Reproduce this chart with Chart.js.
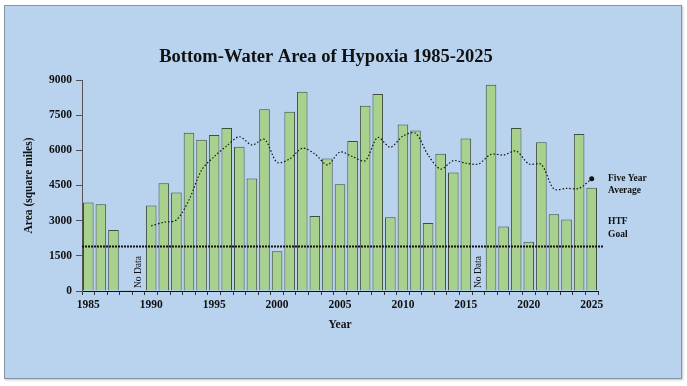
<!DOCTYPE html>
<html>
<head>
<meta charset="utf-8">
<script src="https://cdn.jsdelivr.net/npm/chart.js@4"></script>
<style>
  html, body { margin: 0; padding: 0; background: #fff; }
  #panel { position: absolute; left: 4px; top: 5px; width: 676px; height: 372px;
           background: #b9d3ee; border: 1px solid #8594a6; box-shadow: 1px 1px 2px rgba(0,0,0,0.25); }
  #wrap { position: absolute; left: 0; top: 0; width: 687px; height: 386px; }
</style>
</head>
<body>
<div id="panel"></div>
<div id="wrap"><canvas id="chart" width="687" height="386"></canvas></div>
<script>
// hypoxic area, square miles (null = no data)
const years = [1985, 1986, 1987, 1988, 1989, 1990, 1991, 1992, 1993, 1994,
               1995, 1996, 1997, 1998, 1999, 2000, 2001, 2002, 2003, 2004,
               2005, 2006, 2007, 2008, 2009, 2010, 2011, 2012, 2013, 2014,
               2015, 2016, 2017, 2018, 2019, 2020, 2021, 2022, 2023, 2024, 2025];
const area = [3775, 3700, 2600, 40, null,
              3650, 4600, 4200, 6750, 6450, 6650, 6950, 6150, 4800, 7750,
              1700, 7650, 8500, 3200, 5650, 4550, 6400, 7900, 8400, 3150,
              7100, 6850, 2900, 5850, 5050, 6500, null, 8800, 2750, 6950,
              2100, 6350, 3275, 3050, 6700, 4400];
const fiveYearAvg = [null, null, null, null, null,
                     2780, 2930, 3030, 3880, 5160, 5730, 6190, 6580, 6230, 6470,
                     5490, 5630, 6090, 5850, 5380, 5930, 5730, 5560, 6550, 6130,
                     6610, 6730, 5800, 5200, 5560, 5450, 5420, 5830, 5800, 5970,
                     5420, 5400, 4350, 4380, 4380, 4790];
const htfGoal = 1900;
const yTicks = [0, 1500, 3000, 4500, 6000, 7500, 9000];
const chartTitle = 'Bottom-Water Area of Hypoxia 1985-2025';

const serif = '"Liberation Serif", "Times New Roman", serif';

// title, "No Data" markers, HTF goal line and the side labels
const notes = {
  id: 'notes',
  afterDatasetsDraw(chart) {
    const { ctx, chartArea: a, scales: { x, y } } = chart;
    ctx.save();
    ctx.fillStyle = '#111';
    ctx.font = 'bold 18.5px ' + serif;
    ctx.textAlign = 'center';
    ctx.textBaseline = 'middle';
    ctx.fillText(chartTitle, 326, 57);

    const gy = y.getPixelForValue(htfGoal);
    ctx.strokeStyle = '#111';
    ctx.lineWidth = 2;
    ctx.setLineDash([2, 1]);
    ctx.beginPath();
    ctx.moveTo(a.left, gy);
    ctx.lineTo(a.right + 5, gy);
    ctx.stroke();
    ctx.setLineDash([]);

    ctx.font = '9.5px ' + serif;
    ctx.textAlign = 'left';
    area.forEach((v, i) => {
      if (v !== null) return;
      ctx.save();
      ctx.translate(x.getPixelForValue(i), a.bottom - 3);
      ctx.rotate(-Math.PI / 2);
      ctx.fillText('No Data', 0, 0);
      ctx.restore();
    });

    ctx.font = 'bold 9.5px ' + serif;
    const tx = a.right + 10;
    const ay = y.getPixelForValue(fiveYearAvg[fiveYearAvg.length - 1]);
    ctx.fillText('Five Year', tx, ay);
    ctx.fillText('Average', tx, ay + 12);
    ctx.fillText('HTF', tx, gy - 25);
    ctx.fillText('Goal', tx, gy - 12);
    ctx.restore();
  }
};

new Chart(document.getElementById('chart'), {
  data: {
    labels: years,
    datasets: [
      {
        type: 'line',
        label: 'Five Year Average',
        data: fiveYearAvg,
        order: 0,
        borderColor: '#111',
        borderWidth: 1.2,
        borderDash: [1.5, 2],
        tension: 0.3,
        pointRadius: ctx => ctx.dataIndex === fiveYearAvg.length - 1 ? 2.5 : 0,
        pointBackgroundColor: '#111',
        pointBorderWidth: 0
      },
      {
        type: 'bar',
        label: 'Area',
        data: area,
        order: 1,
        backgroundColor: '#a9d18e',
        borderColor: '#3f4d3c',
        borderWidth: 1,
        barPercentage: 0.84,
        categoryPercentage: 1.0
      }
    ]
  },
  options: {
    responsive: false,
    animation: false,
    layout: { padding: { left: 0, right: 89, top: 80, bottom: 0 } },
    plugins: {
      legend: { display: false },
      tooltip: { enabled: false },
      title: { display: false }
    },
    scales: {
      x: {
        type: 'category',
        offset: true,
        afterFit: s => { s.height = 95; },
        grid: { offset: true, drawOnChartArea: false, tickLength: 4, tickColor: '#333' },
        border: { color: '#111', width: 1 },
        ticks: {
          autoSkip: false, maxRotation: 0, padding: 3, color: '#111',
          font: { family: serif, size: 11.5, weight: 'bold' },
          callback: (v, i) => years[i] % 5 === 0 ? String(years[i]) : ''
        },
        title: {
          display: true, text: 'Year', color: '#111',
          font: { family: serif, size: 11.5, weight: 'bold' },
          padding: { top: 0, bottom: 54 }
        }
      },
      y: {
        min: 0,
        max: 9000,
        afterFit: s => { s.width = 82; },
        afterBuildTicks: s => { s.ticks = yTicks.map(v => ({ value: v })); },
        grid: { drawOnChartArea: false, tickLength: 6, tickColor: '#555' },
        border: { color: '#555', width: 1 },
        ticks: {
          padding: 4, color: '#111',
          font: { family: serif, size: 11.5, weight: 'bold' },
          callback: v => String(v)
        },
        title: {
          display: true, text: 'Area (square miles)', color: '#111',
          font: { family: serif, size: 11.5, weight: 'bold' },
          padding: { top: 22, bottom: 0 }
        }
      }
    }
  },
  plugins: [notes]
});
</script>
</body>
</html>
